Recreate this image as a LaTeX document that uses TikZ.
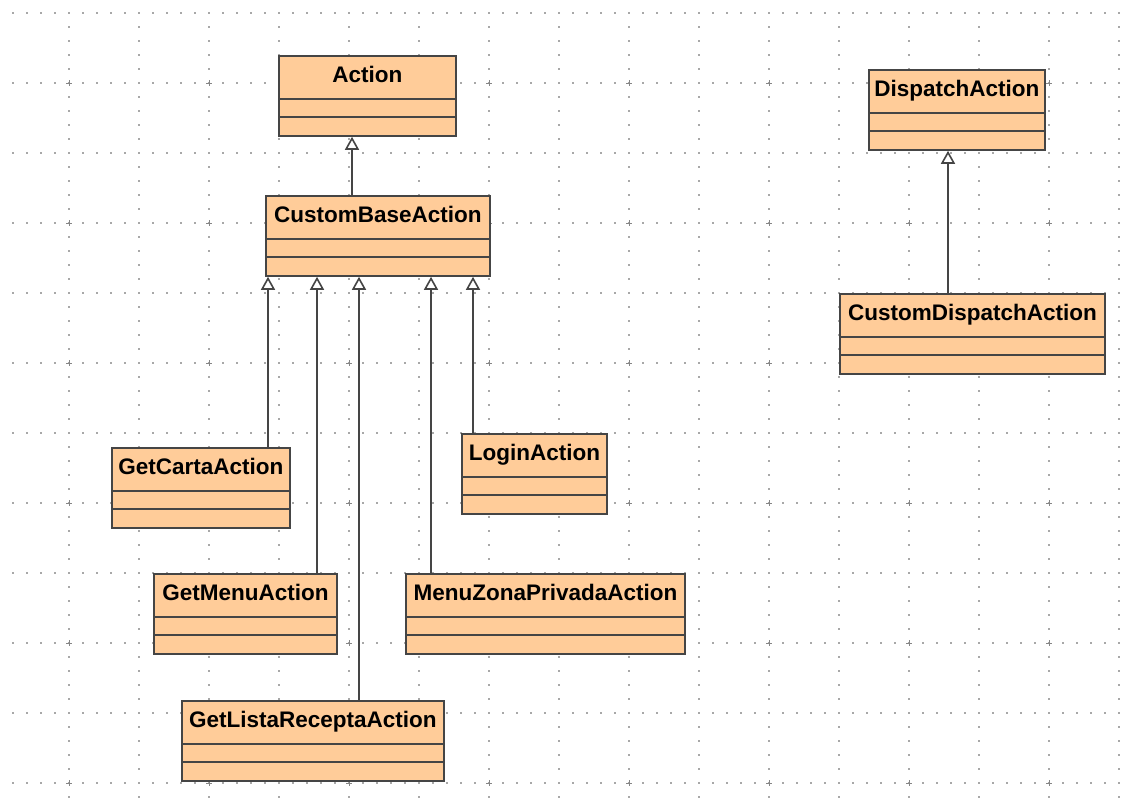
\documentclass[tikz,border=0pt]{standalone}
\usepackage{fontspec}
\setmainfont{Liberation Sans}
\usetikzlibrary{arrows.meta}
\definecolor{peach}{HTML}{FFCC99}
\definecolor{edge}{HTML}{454545}
\definecolor{griddot}{HTML}{A8A8A8}
\tikzset{
  cls/.style={draw=edge, line width=1.8pt, fill=peach, rectangle, inner sep=0pt, minimum height=80pt, anchor=north west},
  lbl/.style={font=\fontsize{22.5}{24}\selectfont\bfseries, inner sep=0pt, text=black},
  sep/.style={draw=edge, line width=1.8pt},
  gen/.style={draw=edge, line width=1.6pt, -{Triangle[width=14pt,length=13pt,fill=white,line width=1.6pt]}},
  gdot/.style={fill=griddot},
}
\newcommand{\classbox}[5]{%
  \node[cls, minimum width=#4pt] (#1) at (#2,#3) {};
  \node[lbl, anchor=base] (#1-t) at ([yshift=-27.5pt]#1.north) {#5};
  \draw[sep] ([yshift=-44pt]#1.north west) -- ([yshift=-44pt]#1.north east);
  \draw[sep] ([yshift=-62pt]#1.north west) -- ([yshift=-62pt]#1.north east);
}
\begin{document}
\begin{tikzpicture}[x=1pt,y=-1pt]
\useasboundingbox (0,0) rectangle (1124,808);
% grid
\foreach \r in {0,...,11}{
  \foreach \i in {0,...,79}{
    \fill[gdot] ({13+14*\i-0.9},{13+70*\r-0.9}) rectangle ++(1.8,1.8);
  }
}
\foreach \c in {0,...,15}{
  \foreach \j in {0,...,56}{
    \fill[gdot] ({69+70*\c-0.9},{13+14*\j-0.9}) rectangle ++(1.8,1.8);
  }
}
\foreach \c in {0,...,7}{
  \foreach \r in {0,...,5}{
    \draw[griddot!80!black, line width=1pt] ({69+140*\c-3},{83+140*\r}) -- ++(6,0);
    \draw[griddot!80!black, line width=1pt] ({69+140*\c},{83+140*\r-3}) -- ++(0,6);
  }
}
% classes
\classbox{action}{278}{55}{177}{Action}
\classbox{base}{265}{195}{224}{CustomBaseAction}
\classbox{dispatch}{868}{69}{176}{DispatchAction}
\classbox{cdispatch}{839}{293}{265}{CustomDispatchAction}
\classbox{carta}{111}{447}{178}{GetCartaAction}
\classbox{login}{461}{433}{145}{LoginAction}
\classbox{menu}{153}{573}{183}{GetMenuAction}
\classbox{zona}{405}{573}{279}{MenuZonaPrivadaAction}
\classbox{lista}{181}{700}{262}{GetListaReceptaAction}
% connector x positions
\coordinate (xa) at (352,0);
\coordinate (xd) at (948,0);
\coordinate (x1) at (268,0);
\coordinate (x2) at (317,0);
\coordinate (x3) at (359,0);
\coordinate (x4) at (431,0);
\coordinate (x5) at (473,0);
% generalizations
\draw[gen] (base.north -| xa) -- (action.south -| xa);
\draw[gen] (cdispatch.north -| xd) -- (dispatch.south -| xd);
\draw[gen] (carta.north -| x1) -- (base.south -| x1);
\draw[gen] (menu.north -| x2) -- (base.south -| x2);
\draw[gen] (lista.north -| x3) -- (base.south -| x3);
\draw[gen] (zona.north -| x4) -- (base.south -| x4);
\draw[gen] (login.north -| x5) -- (base.south -| x5);
\end{tikzpicture}
\end{document}
